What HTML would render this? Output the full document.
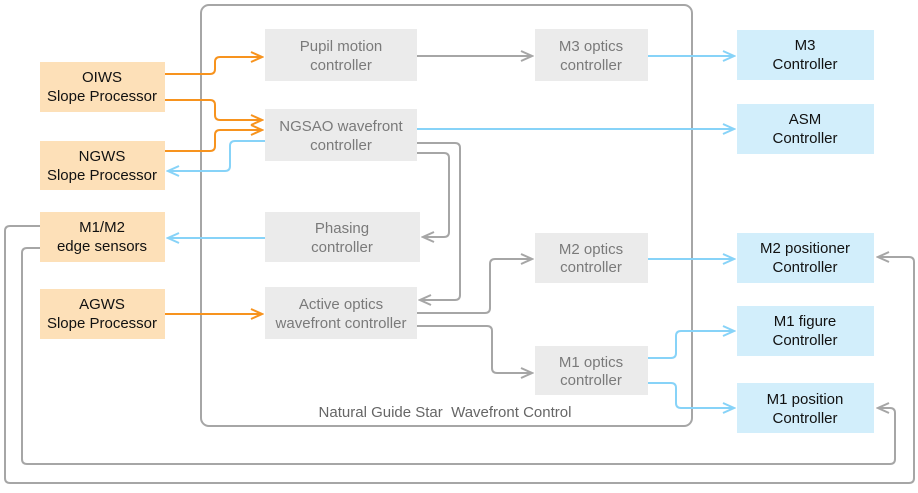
<!DOCTYPE html>
<html><head><style>
body{margin:0;background:#fff;}
.t{font-family:"Liberation Sans",sans-serif;font-size:15px;text-anchor:middle;}
</style></head><body>
<svg width="918" height="488" xmlns="http://www.w3.org/2000/svg">
<defs>
<marker id="ao" markerWidth="14" markerHeight="12" refX="12" refY="6" orient="auto" markerUnits="userSpaceOnUse"><polyline points="1,1 12,6 1,11" fill="none" stroke="#f7931e" stroke-width="2"/></marker>
<marker id="ab" markerWidth="14" markerHeight="12" refX="12" refY="6" orient="auto" markerUnits="userSpaceOnUse"><polyline points="1,1 12,6 1,11" fill="none" stroke="#87d3f8" stroke-width="2"/></marker>
<marker id="ag" markerWidth="14" markerHeight="12" refX="12" refY="6" orient="auto" markerUnits="userSpaceOnUse"><polyline points="1,1 12,6 1,11" fill="none" stroke="#a6a6a6" stroke-width="2"/></marker>
</defs>
<rect x="201" y="5" width="491" height="421" rx="8" fill="none" stroke="#a6a6a6" stroke-width="2"/>
<text class="t" x="445" y="417" fill="#666">Natural Guide Star &#160;Wavefront Control</text>
<g fill="#fde0b8">
<rect x="40" y="62" width="125" height="50"/><rect x="40" y="141" width="125" height="49"/>
<rect x="40" y="212" width="125" height="50"/><rect x="40" y="289" width="125" height="50"/>
</g>
<g fill="#ebebeb">
<rect x="265" y="29" width="152" height="52"/><rect x="265" y="109" width="152" height="52"/>
<rect x="265" y="212" width="155" height="50"/><rect x="265" y="287" width="152" height="52"/>
<rect x="535" y="29" width="113" height="52"/><rect x="535" y="233" width="113" height="50"/>
<rect x="535" y="346" width="113" height="49"/>
</g>
<g fill="#d2eefb">
<rect x="737" y="30" width="137" height="50"/><rect x="737" y="104" width="137" height="50"/>
<rect x="737" y="233" width="137" height="50"/><rect x="737" y="306" width="137" height="50"/>
<rect x="737" y="383" width="137" height="50"/>
</g>
<g fill="none" stroke-width="2" stroke-linejoin="round">
<g stroke="#f7931e" marker-end="url(#ao)">
<path d="M165 74 H210 Q215 74 215 69 V62 Q215 57 220 57 H262"/>
<path d="M165 100 H210 Q215 100 215 105 V115 Q215 120 220 120 H262"/>
<path d="M165 151 H210 Q215 151 215 146 V135 Q215 130 220 130 H262"/>
<path d="M165 314 H262"/>
</g>
<g stroke="#87d3f8" marker-end="url(#ab)">
<path d="M265 141 H235 Q230 141 230 146 V166 Q230 171 225 171 H168"/>
<path d="M265 238 H168"/>
<path d="M417 129 H734"/>
<path d="M648 56 H734"/>
<path d="M648 259 H734"/>
<path d="M648 358 H671 Q676 358 676 353 V336 Q676 331 681 331 H734"/>
<path d="M648 383 H671 Q676 383 676 388 V403 Q676 408 681 408 H734"/>
</g>
<g stroke="#a6a6a6" marker-end="url(#ag)">
<path d="M417 56 H532"/>
<path d="M417 143 H455 Q460 143 460 148 V295 Q460 300 455 300 H420"/>
<path d="M417 153 H444 Q449 153 449 158 V232 Q449 237 444 237 H423"/>
<path d="M417 313 H485 Q490 313 490 308 V264 Q490 259 495 259 H532"/>
<path d="M417 326 H487 Q492 326 492 331 V368 Q492 373 497 373 H532"/>
<path d="M40 226 H10 Q5 226 5 231 V478 Q5 483 10 483 H909 Q914 483 914 478 V262 Q914 257 909 257 H878"/>
<path d="M40 248 H27 Q22 248 22 253 V459 Q22 464 27 464 H890 Q895 464 895 459 V413 Q895 408 890 408 H878"/>
</g>
</g>
<g fill="#111">
<text class="t" x="102" y="82">OIWS</text><text class="t" x="102" y="101">Slope Processor</text>
<text class="t" x="102" y="161">NGWS</text><text class="t" x="102" y="180">Slope Processor</text>
<text class="t" x="102" y="232">M1/M2</text><text class="t" x="102" y="251">edge sensors</text>
<text class="t" x="102" y="309">AGWS</text><text class="t" x="102" y="328">Slope Processor</text>
<text class="t" x="805" y="50">M3</text><text class="t" x="805" y="69">Controller</text>
<text class="t" x="805" y="124">ASM</text><text class="t" x="805" y="143">Controller</text>
<text class="t" x="805" y="253">M2 positioner</text><text class="t" x="805" y="272">Controller</text>
<text class="t" x="805" y="326">M1 figure</text><text class="t" x="805" y="345">Controller</text>
<text class="t" x="805" y="404">M1 position</text><text class="t" x="805" y="423">Controller</text>
</g>
<g fill="#7a7a7a">
<text class="t" x="341" y="51">Pupil motion</text><text class="t" x="341" y="70">controller</text>
<text class="t" x="341" y="131">NGSAO wavefront</text><text class="t" x="341" y="150">controller</text>
<text class="t" x="342" y="233">Phasing</text><text class="t" x="342" y="252">controller</text>
<text class="t" x="341" y="309">Active optics</text><text class="t" x="341" y="328">wavefront controller</text>
<text class="t" x="591" y="51">M3 optics</text><text class="t" x="591" y="70">controller</text>
<text class="t" x="591" y="254">M2 optics</text><text class="t" x="591" y="272">controller</text>
<text class="t" x="591" y="367">M1 optics</text><text class="t" x="591" y="385">controller</text>
</g>
</svg>
</body></html>
